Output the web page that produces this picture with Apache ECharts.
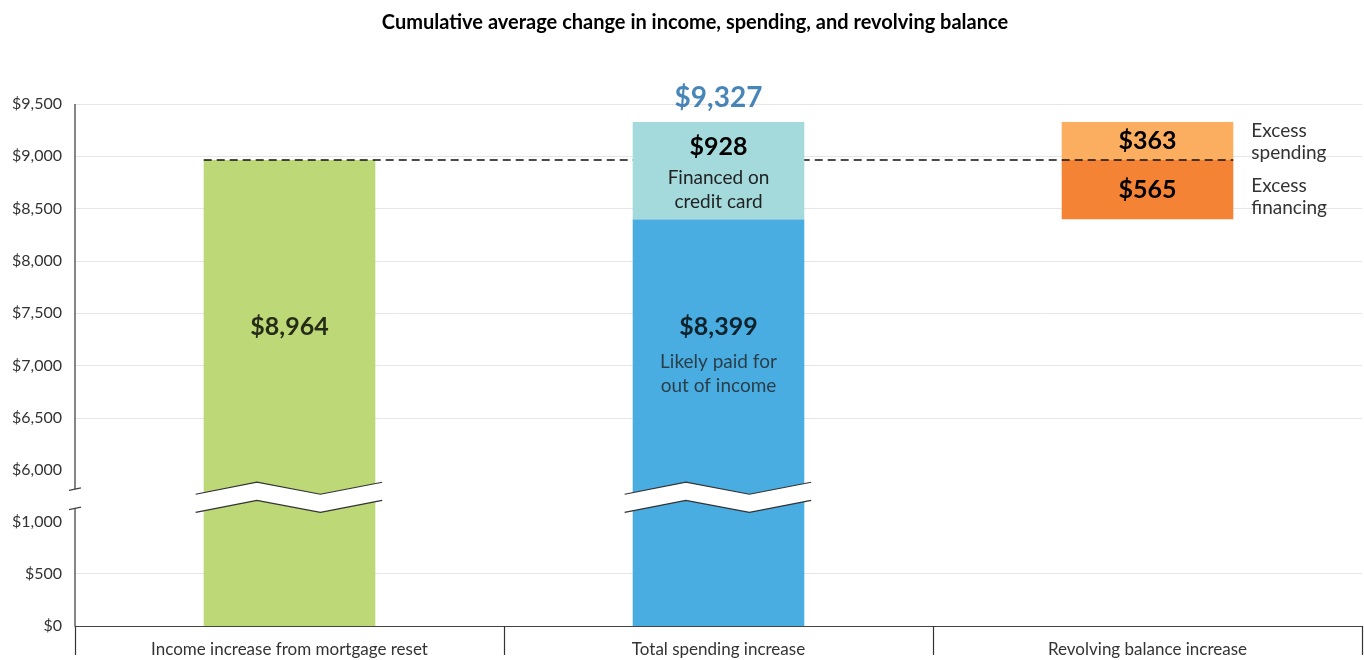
<!DOCTYPE html>
<html>
<head>
<meta charset="utf-8">
<title>Cumulative average change in income, spending, and revolving balance</title>
<script src="https://cdn.jsdelivr.net/npm/echarts@6/dist/echarts.min.js"></script>
<style>
    html, body { margin: 0; padding: 0; background: #fff; }
    #container { width: 1364px; height: 660px; }
</style>
</head>
<body>
<div id="container"></div>
<script>
// data
var categories = ['Income increase from mortgage reset', 'Total spending increase', 'Revolving balance increase'];
var incomeIncrease = [8964, '-', '-'];
var paidOutOfIncome = ['-', 8399, '-'];
var financedOnCard = ['-', 928, '-'];
var excessFinancing = ['-', '-', 565];
var excessSpending = ['-', '-', 363];
var axisBreak = [1000, 6000];
var paidCaption = ['Likely paid for', 'out of income'];
var financedCaption = ['Financed on', 'credit card'];
var sideNotes = ['Excess\nspending', 'Excess\nfinancing'];

var BAR_FRAC = 0.4;      // barWidth 40%
var LABEL_AT = 7590;     // where the big labels inside the tall bars sit
var NOTE_NUDGE = [1, 7]; // px, notes are not exactly centred on their segment
var FONT = 'Lato';

function money(v) {
    return '$' + String(v).replace(/\B(?=(\d{3})+(?!\d))/g, ',');
}

var total = paidOutOfIncome[1] + financedOnCard[1];
var revolvingBase = ['-', '-', paidOutOfIncome[1]];

// zigzag band over the bars that cross the axis break
function renderBreak(params, api) {
    var cat = api.value(0);
    var hi = api.coord([cat, axisBreak[1]]);
    var yLo = api.coord([cat, axisBreak[0]])[1];
    var cx = hi[0], yHi = hi[1];
    var g = yLo - yHi;
    var bw = api.size([1, 0])[0] * BAR_FRAC;
    var xs = [cx - 0.547 * bw, cx - 0.19 * bw, cx + 0.18 * bw, cx + 0.54 * bw];
    var up = [0.47, 0.235, 0.47, 0.235];
    var drop = 0.353 * g;
    var top = xs.map(function (x, i) { return [x, yHi + up[i] * g]; });
    var bottom = top.map(function (p) { return [p[0], p[1] + drop]; });
    var line = {stroke: '#333', lineWidth: 1.2, fill: null};
    return {
        type: 'group',
        children: [
            {type: 'polygon', shape: {points: top.concat(bottom.slice().reverse())}, style: {fill: '#fff'}},
            {type: 'polyline', shape: {points: top}, style: line},
            {type: 'polyline', shape: {points: bottom}, style: line}
        ]
    };
}

// y axis line with the little break marks
function renderAxisLine(params, api) {
    var cs = params.coordSys;
    var yHi = api.coord([0, axisBreak[1]])[1];
    var yLo = api.coord([0, axisBreak[0]])[1];
    var g = yLo - yHi;
    var x = cs.x;
    var s = {stroke: '#444', lineWidth: 1.3};
    var cut1 = yHi + 0.37 * g;
    var cut2 = yLo - 0.255 * g;
    return {
        type: 'group',
        children: [
            {type: 'line', shape: {x1: x, y1: cs.y, x2: x, y2: cut1}, style: s},
            {type: 'line', shape: {x1: x - 6, y1: cut1 + 1.2, x2: x + 6, y2: cut1 - 1.2}, style: s},
            {type: 'line', shape: {x1: x, y1: cut2, x2: x, y2: cs.y + cs.height}, style: s},
            {type: 'line', shape: {x1: x - 6, y1: cut2 + 1.2, x2: x + 6, y2: cut2 - 1.2}, style: s}
        ]
    };
}

// dashed income line from the first bar to the last one
function renderDash(params, api) {
    var bw = api.size([1, 0])[0] * BAR_FRAC;
    var a = api.coord([0, api.value(1)]);
    var b = api.coord([2, api.value(1)]);
    return {
        type: 'line',
        shape: {x1: a[0] - bw / 2, y1: a[1], x2: b[0] + bw / 2, y2: b[1]},
        style: {stroke: '#111', lineWidth: 1.5, lineDash: [8, 5]}
    };
}

// notes to the right of the revolving bar
function renderNote(params, api) {
    var i = api.value(2);
    var p = api.coord([api.value(0), api.value(1)]);
    var bw = api.size([1, 0])[0] * BAR_FRAC;
    return {
        type: 'text',
        x: p[0] + bw / 2 + 18,
        y: p[1] + NOTE_NUDGE[i],
        style: {
            text: sideNotes[i],
            fill: '#333',
            fontFamily: FONT,
            fontSize: 19,
            lineHeight: 22,
            align: 'left',
            verticalAlign: 'middle'
        }
    };
}

var bigStyle = {fontFamily: FONT, fontWeight: 'bold', fontSize: 25, color: '#000'};
var noteStyle = {fontFamily: FONT, fontSize: 19, color: '#222', lineHeight: 24};

var myChart = echarts.init(document.getElementById('container'));

var option = {
    animation: false,
    title: {
        text: 'Cumulative average change in income, spending, and revolving balance',
        left: 690,
        textAlign: 'center',
        top: 8,
        textStyle: {fontFamily: FONT, fontWeight: 'bold', fontSize: 20, color: '#000'}
    },
    grid: {left: 75, right: 2, top: 104, bottom: 34, outerBoundsMode: 'none'},
    xAxis: {
        type: 'category',
        data: categories,
        axisLine: {lineStyle: {color: '#444', width: 1.2}},
        axisTick: {show: true, length: 29, interval: 0, lineStyle: {color: '#333', width: 1.2}},
        axisLabel: {color: '#333', fontFamily: FONT, fontSize: 17, margin: 15},
        splitLine: {show: false}
    },
    yAxis: {
        type: 'value',
        min: 0,
        max: 9500,
        interval: 500,
        breaks: [{start: axisBreak[0], end: axisBreak[1], gap: '9.8%'}],
        breakArea: {show: false},
        axisLine: {show: false},
        axisTick: {show: false},
        axisLabel: {formatter: function (v) { return money(v); }, color: '#333', fontFamily: FONT, fontSize: 16, margin: 13},
        splitLine: {lineStyle: {color: '#e6e6e6', width: 1}}
    },
    series: [
        {
            name: 'Income increase', type: 'bar', stack: 'a', barWidth: '40%', z: 2,
            itemStyle: {color: '#BDD877'},
            data: incomeIncrease
        },
        {
            name: 'base', type: 'bar', stack: 'a', z: 2, silent: true,
            itemStyle: {color: 'rgba(0,0,0,0)'},
            data: revolvingBase
        },
        {
            name: 'Paid out of income', type: 'bar', stack: 'a', z: 2,
            itemStyle: {color: '#4AADE2'},
            data: paidOutOfIncome
        },
        {
            name: 'Financed on credit card', type: 'bar', stack: 'a', z: 4,
            itemStyle: {color: '#A4DADC'},
            label: {
                show: true, position: 'inside',
                formatter: function (p) {
                    return '{b|' + money(p.value) + '}\n{t|' + financedCaption.join('}\n{t|') + '}';
                },
                rich: {b: Object.assign({lineHeight: 38}, bigStyle), t: noteStyle}
            },
            data: financedOnCard
        },
        {
            name: 'Excess financing', type: 'bar', stack: 'a', z: 2,
            itemStyle: {color: '#F58335'},
            label: Object.assign({show: true, position: 'inside', formatter: function (p) { return money(p.value); }}, bigStyle),
            data: excessFinancing
        },
        {
            name: 'Excess spending', type: 'bar', stack: 'a', z: 2,
            itemStyle: {color: '#FBAE5F'},
            label: Object.assign({show: true, position: 'inside', formatter: function (p) { return money(p.value); }}, bigStyle),
            data: excessSpending
        },
        {
            name: 'total', type: 'scatter', symbolSize: 0, z: 8, silent: true,
            label: {
                show: true, position: 'top', distance: 10,
                formatter: function () { return money(total); },
                fontFamily: FONT, fontWeight: 'bold', fontSize: 28, color: '#1A66A6'
            },
            data: [[1, total]]
        },
        {
            name: 'bar labels', type: 'scatter', symbolSize: 0, z: 8, silent: true,
            label: {
                show: true, position: 'bottom', distance: 0,
                formatter: function (p) {
                    if (p.dataIndex === 0) {
                        return '{b|' + money(incomeIncrease[0]) + '}';
                    }
                    return '{b|' + money(paidOutOfIncome[1]) + '}\n{t|' + paidCaption.join('}\n{t|') + '}';
                },
                rich: {b: Object.assign({lineHeight: 46}, bigStyle), t: noteStyle}
            },
            data: [[0, LABEL_AT], [1, LABEL_AT]]
        },
        {
            name: 'income line', type: 'custom', z: 3, silent: true, clip: false,
            renderItem: renderDash,
            encode: {x: 0, y: 1},
            data: [[0, incomeIncrease[0]]]
        },
        {
            name: 'break', type: 'custom', z: 6, silent: true, clip: false,
            renderItem: renderBreak,
            encode: {x: 0, y: 1},
            data: [[0, axisBreak[0]], [1, axisBreak[0]]]
        },
        {
            name: 'y axis line', type: 'custom', z: 7, silent: true, clip: false,
            renderItem: renderAxisLine,
            encode: {x: 0, y: 1},
            data: [[0, 0]]
        },
        {
            name: 'notes', type: 'custom', z: 8, silent: true, clip: false,
            renderItem: renderNote,
            encode: {x: 0, y: 1},
            data: [
                [2, paidOutOfIncome[1] + excessFinancing[2] + excessSpending[2] / 2, 0],
                [2, paidOutOfIncome[1] + excessFinancing[2] / 2, 1]
            ]
        }
    ]
};

myChart.setOption(option);
</script>
</body>
</html>
